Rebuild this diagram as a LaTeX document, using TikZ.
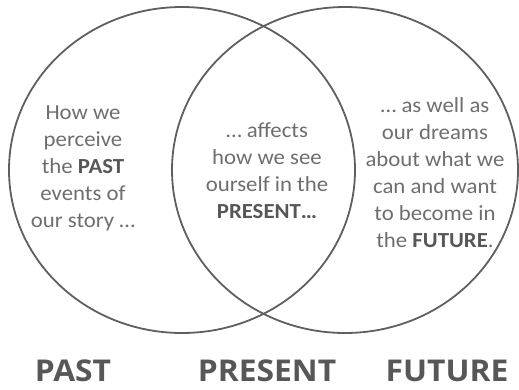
\documentclass[tikz,border=0pt]{standalone}
\usepackage{fontspec}
\setmainfont{Carlito}[FakeStretch=1.06]
\newfontfamily\tagfont{Open Sans}[FakeStretch=1.06]
\usepackage{tikz}
\definecolor{ringgray}{HTML}{5F5F5F}
\definecolor{textgray}{HTML}{6E6E6E}
\definecolor{boldgray}{HTML}{575757}
\tikzset{
  blurb/.style={align=center, anchor=base, text=textgray, inner sep=0pt,
    font=\fontsize{21.5}{27}\selectfont},
  tag/.style={anchor=base, text=boldgray, inner sep=0pt,
    font=\tagfont\bfseries\fontsize{30}{36}\selectfont}
}
\newcommand{\hl}[1]{{\bfseries\color{boldgray}#1}}

\begin{document}
\begin{tikzpicture}[x=1pt,y=-1pt]
    \useasboundingbox (0,0) rectangle (519,389);
    \draw[ringgray,line width=1.8pt] (182,170) ellipse [x radius=173, y radius=163];
    \draw[ringgray,line width=1.8pt] (345,170) ellipse [x radius=173, y radius=163];
    \node[blurb] (pasttxt) at (83,227) {How we\\perceive\\the \hl{PAST}\\events of\\our story \dots};
    \node[blurb] (presenttxt) at (267,218) {\dots\ affects\\how we see\\ourself in the\\\hl{PRESENT\dots}};
    \node[blurb] (futuretxt) at (435,247) {\dots\ as well as\\our dreams\\about what we\\can and want\\to become in\\the \hl{FUTURE}.};
    \node[tag] (past) at (73,381) {PAST};
    \node[tag] (present) at (267,381) {PRESENT};
    \node[tag] (future) at (447,381) {FUTURE};
  \end{tikzpicture}
\end{document}
